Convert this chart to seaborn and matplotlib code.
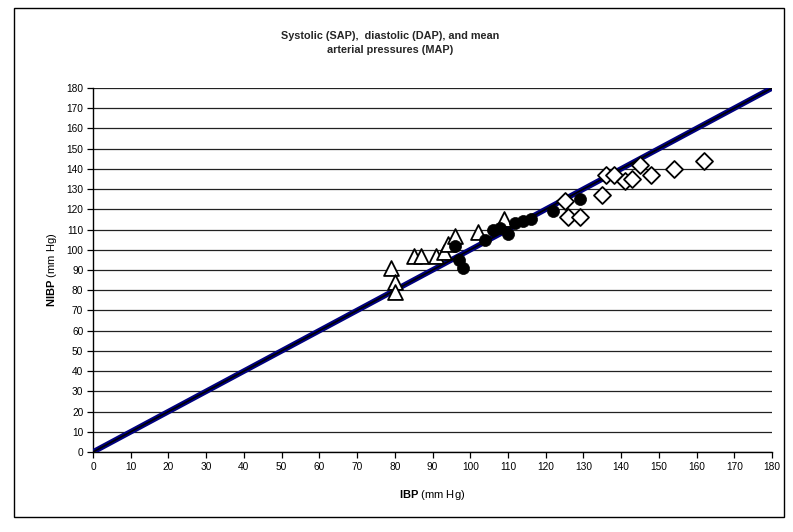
import numpy as np
import pandas as pd
import matplotlib
matplotlib.use("Agg")
import matplotlib.pyplot as plt
from matplotlib.patches import Rectangle
import seaborn as sns

# ---- data ----
tri_ibp = [79, 80, 80, 85, 87, 91, 93, 94, 96, 102, 109]
tri_nibp = [91, 84, 79, 97, 97, 97, 99, 103, 107, 109, 115]

circ_ibp = [96, 97, 98, 104, 106, 108, 110, 112, 114, 116, 122, 129]
circ_nibp = [102, 95, 91, 105, 110, 111, 108, 113, 114, 115, 119, 125]

dia_ibp = [125, 126, 129, 135, 136, 138, 141, 143, 145, 148, 154, 162]
dia_nibp = [124, 116, 116, 127, 137, 137, 134, 135, 142, 137, 140, 144]

line_x = [0, 180]
line_y = [0, 180]

ticks = list(range(0, 181, 10))

sns.set_theme(style="white")
plt.rcParams["font.family"] = ["Liberation Sans", "DejaVu Sans"]
plt.rcParams["mathtext.fontset"] = "custom"
plt.rcParams["mathtext.rm"] = "Liberation Sans"
plt.rcParams["mathtext.bf"] = "Liberation Sans:bold"

W, H = 793, 532
fig = plt.figure(figsize=(W / 100, H / 100), dpi=100)
fig.patch.set_facecolor("white")
ax = fig.add_axes([93 / W, 1 - 452 / H, (772 - 93) / W, (452 - 88) / H])

line_df = pd.DataFrame({"x": line_x, "y": line_y})
sns.lineplot(data=line_df, x="x", y="y", ax=ax, color="#000080", lw=4, zorder=3)
sns.lineplot(data=line_df, x="x", y="y", ax=ax, color="black", lw=1.2, zorder=4)

tri = pd.DataFrame({"x": tri_ibp, "y": tri_nibp})
circ = pd.DataFrame({"x": circ_ibp, "y": circ_nibp})
dia = pd.DataFrame({"x": dia_ibp, "y": dia_nibp})

sns.scatterplot(data=tri, x="x", y="y", ax=ax, marker="^", s=115,
                facecolor="white", edgecolor="black", linewidth=1.3, zorder=5)
sns.scatterplot(data=circ, x="x", y="y", ax=ax, marker="o", s=75,
                color="black", edgecolor="black", linewidth=0.5, zorder=6)
sns.scatterplot(data=dia, x="x", y="y", ax=ax, marker="D", s=75,
                facecolor="white", edgecolor="black", linewidth=1.3, zorder=5)

ax.set_xlim(0, 180)
ax.set_ylim(0, 180)
ax.set_xticks(ticks)
ax.set_yticks(ticks)
ax.set_xticklabels([str(t) for t in ticks], fontsize=7.3)
ax.set_yticklabels([str(t) for t in ticks], fontsize=7.3)
ax.tick_params(axis="both", direction="out", length=4, width=0.9, color="black",
               pad=3, labelcolor="black")
ax.tick_params(axis="x", bottom=True)
ax.tick_params(axis="y", left=True)
ax.yaxis.grid(True, color="#222222", lw=0.9)
ax.xaxis.grid(False)
ax.set_axisbelow(True)
for side in ["top", "right"]:
    ax.spines[side].set_visible(False)
for side in ["left", "bottom"]:
    ax.spines[side].set_color("black")
    ax.spines[side].set_linewidth(1.0)

ax.set_xlabel(r"$\bf{IBP}$ (mm Hg)", fontsize=8, color="black", labelpad=12)
ax.set_ylabel(r"$\bf{NIBP}$ (mm Hg)", fontsize=8, color="black", labelpad=5)

fig.text(390 / W, 1 - 43 / H, "Systolic (SAP),  diastolic (DAP), and mean\narterial pressures (MAP)",
         ha="center", va="center", fontsize=7.8, weight="bold", linespacing=1.6)

fig.patches.append(Rectangle((14 / W, 1 - 517 / H), 770 / W, 509 / H,
                             transform=fig.transFigure, fill=False,
                             edgecolor="black", lw=1.0))

fig.savefig("out.png", dpi=100, facecolor="white")
